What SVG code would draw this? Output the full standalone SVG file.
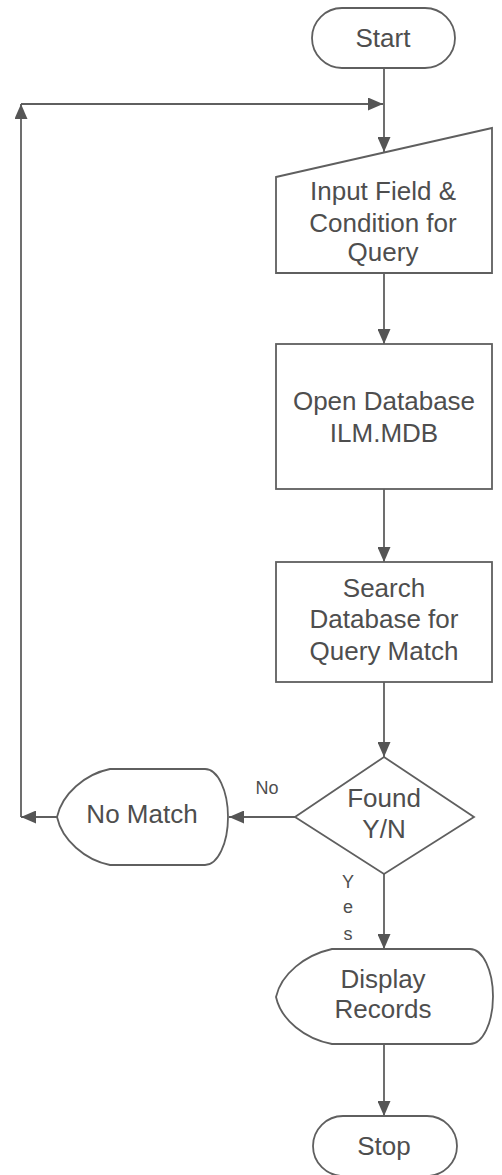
<svg xmlns="http://www.w3.org/2000/svg" width="502" height="1175" viewBox="0 0 502 1175">
<defs>
<style>
.shape{fill:#ffffff;stroke:#5f5f5f;stroke-width:1.8}
.line{fill:none;stroke:#5f5f5f;stroke-width:1.8}
text{font-family:"Liberation Sans",Arial,sans-serif;fill:#4e4e4e;text-anchor:middle}
.t{font-size:26px}
.s{font-size:18px}
</style>
<marker id="ah" markerUnits="userSpaceOnUse" markerWidth="15" markerHeight="13" refX="15" refY="6.5" orient="auto">
<path d="M0,0 L15,6.5 L0,13 z" fill="#555555"/>
</marker>
</defs>
<rect width="502" height="1175" fill="#ffffff"/>
<g id="connectors">
<line class="line" x1="384" y1="68" x2="384" y2="152" marker-end="url(#ah)"/>
<line class="line" x1="21" y1="104" x2="383" y2="104" marker-end="url(#ah)"/>
<line class="line" x1="384" y1="273" x2="384" y2="344" marker-end="url(#ah)"/>
<line class="line" x1="384" y1="489" x2="384" y2="562" marker-end="url(#ah)"/>
<line class="line" x1="384" y1="682" x2="384" y2="757" marker-end="url(#ah)"/>
<line class="line" x1="295" y1="817" x2="229" y2="817" marker-end="url(#ah)"/>
<line class="line" x1="57" y1="817" x2="21" y2="817" marker-end="url(#ah)"/>
<line class="line" x1="21" y1="817" x2="21" y2="104" marker-end="url(#ah)"/>
<line class="line" x1="384" y1="874" x2="384" y2="949" marker-end="url(#ah)"/>
<line class="line" x1="384" y1="1044" x2="384" y2="1116" marker-end="url(#ah)"/>
<text class="s" x="267" y="794">No</text>
<text class="s" x="348" y="888">Y</text>
<text class="s" x="348" y="913">e</text>
<text class="s" x="348" y="940">s</text>
</g>
<g id="start">
<rect class="shape" x="312" y="8" width="143" height="60" rx="30" ry="30"/>
<text class="t" x="383" y="47">Start</text>
</g>
<g id="input">
<polygon class="shape" points="276,177 492,128 492,273 276,273"/>
<text class="t" x="383" y="200">Input Field &amp;</text>
<text class="t" x="383" y="232">Condition for</text>
<text class="t" x="383" y="261">Query</text>
</g>
<g id="open">
<rect class="shape" x="276" y="344" width="216" height="145"/>
<text class="t" x="384" y="410">Open Database</text>
<text class="t" x="384" y="442">ILM.MDB</text>
</g>
<g id="search">
<rect class="shape" x="276" y="562" width="216" height="120"/>
<text class="t" x="384" y="597">Search</text>
<text class="t" x="384" y="628">Database for</text>
<text class="t" x="384" y="660">Query Match</text>
</g>
<g id="decision">
<polygon class="shape" points="384,757 474,817 384,874 295,817"/>
<text class="t" x="384" y="807">Found</text>
<text class="t" x="384" y="838">Y/N</text>
</g>
<g id="nomatch">
<path class="shape" d="M110,769 L205,769 A23,48 0 0 1 205,865 L110,865 C85,860 62,840 57,817 C62,794 85,774 110,769 Z"/>
<text class="t" x="142" y="823">No Match</text>
</g>
<g id="display">
<path class="shape" d="M332,949 L470,949 A23,47.5 0 0 1 470,1044 L332,1044 C305,1039 281,1020 276,997 C281,974 305,955 332,949 Z"/>
<text class="t" x="383" y="988">Display</text>
<text class="t" x="383" y="1018">Records</text>
</g>
<g id="stop">
<rect class="shape" x="313" y="1116" width="144" height="60" rx="30" ry="30"/>
<text class="t" x="384" y="1155">Stop</text>
</g>
</svg>
